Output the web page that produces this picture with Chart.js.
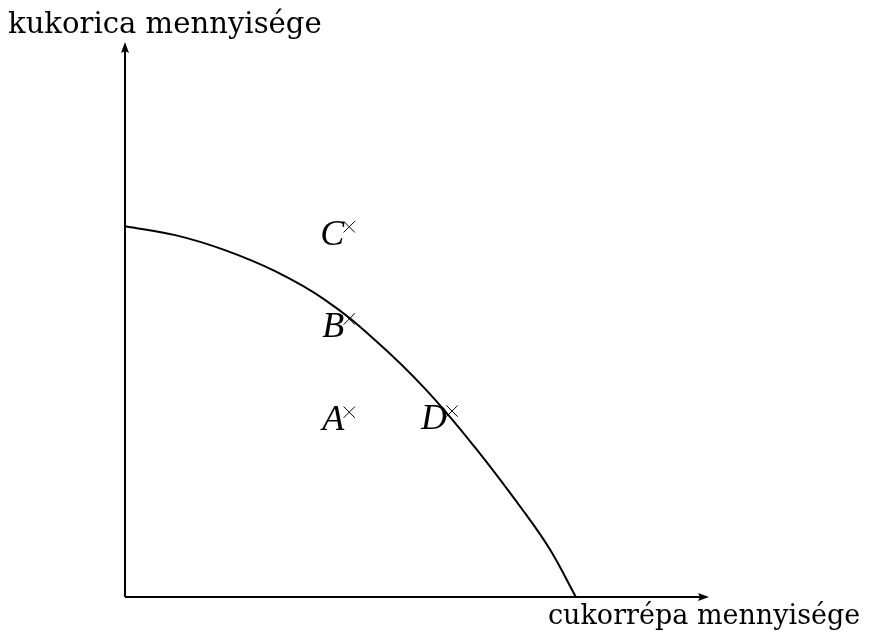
<!DOCTYPE html>
<html>
<head>
<meta charset="utf-8">
<script src="https://cdn.jsdelivr.net/npm/chart.js@4.4.1/dist/chart.umd.min.js"></script>
<style>
  html, body { margin: 0; padding: 0; background: #ffffff; }
  #wrap { width: 877px; height: 635px; }
</style>
</head>
<body>
<div id="wrap"><canvas id="ppf"></canvas></div>
<script>
// production possibility curve (axis units 0..10)
const curveX = [0, 0.86, 1.71, 2.57, 3.43, 4.28, 5.14, 5.99, 6.85, 7.28, 7.72];
const curveY = [6.68, 6.52, 6.25, 5.87, 5.35, 4.63, 3.75, 2.70, 1.51, 0.85, 0];
// marked points
const pointNames = ["C", "B", "A", "D"];
const pointX = [3.84, 3.84, 3.84, 5.60];
const pointY = [6.67, 5.01, 3.33, 3.35];
const xTitle = "cukorrépa mennyisége";
const yTitle = "kukorica mennyisége";

const curveData = curveX.map((x, i) => ({ x: x, y: curveY[i] }));
const markData = pointX.map((x, i) => ({ x: x, y: pointY[i] }));

// fit a serif label to a given width
function fitFont(ctx, text, width, family) {
  ctx.font = "30px " + family;
  const w = ctx.measureText(text).width;
  return Math.round(30 * width / w * 10) / 10;
}

const axesAndLabels = {
  id: "axesAndLabels",
  afterDatasetsDraw(chart) {
    const ctx = chart.ctx;
    const xs = chart.scales.x, ys = chart.scales.y;
    const x0 = xs.getPixelForValue(0), y0 = ys.getPixelForValue(0);
    const xEnd = xs.getPixelForValue(10), yEnd = ys.getPixelForValue(10);
    ctx.save();
    ctx.strokeStyle = "#000";
    ctx.fillStyle = "#000";
    ctx.lineWidth = 2;
    ctx.beginPath();
    ctx.moveTo(x0, y0);
    ctx.lineTo(xEnd - 6, y0);
    ctx.moveTo(x0, y0);
    ctx.lineTo(x0, yEnd + 6);
    ctx.stroke();
    // arrow heads
    ctx.beginPath();
    ctx.moveTo(xEnd, y0);
    ctx.lineTo(xEnd - 11, y0 - 4);
    ctx.lineTo(xEnd - 9, y0);
    ctx.lineTo(xEnd - 11, y0 + 4);
    ctx.closePath();
    ctx.fill();
    ctx.beginPath();
    ctx.moveTo(x0, yEnd);
    ctx.lineTo(x0 - 4, yEnd + 11);
    ctx.lineTo(x0, yEnd + 9);
    ctx.lineTo(x0 + 4, yEnd + 11);
    ctx.closePath();
    ctx.fill();

    // axis titles
    const fam = "'DejaVu Serif', serif";
    ctx.textBaseline = "alphabetic";
    ctx.textAlign = "left";
    ctx.font = fitFont(ctx, yTitle, 314, fam) + "px " + fam;
    ctx.fillText(yTitle, 8, 33);
    ctx.font = fitFont(ctx, xTitle, 312, fam) + "px " + fam;
    ctx.fillText(xTitle, 548, 624);

    // point letters
    ctx.font = "italic 36px 'Liberation Serif', serif";
    ctx.textAlign = "right";
    pointNames.forEach((name, i) => {
      const px = xs.getPixelForValue(pointX[i]);
      const py = ys.getPixelForValue(pointY[i]);
      ctx.fillText(name, px - 5, py + 18);
    });
    ctx.restore();
  }
};

new Chart(document.getElementById("ppf"), {
  type: "scatter",
  data: {
    datasets: [
      {
        data: curveData,
        showLine: true,
        borderColor: "#000",
        borderWidth: 2,
        pointRadius: 0,
        tension: 0.4,
        fill: false
      },
      {
        data: markData,
        showLine: false,
        pointStyle: "crossRot",
        pointRadius: 8,
        pointBorderWidth: 1,
        pointBorderColor: "#000",
        pointBackgroundColor: "#000"
      }
    ]
  },
  options: {
    responsive: true,
    maintainAspectRatio: false,
    animation: false,
    layout: { padding: { left: 125, top: 42, right: 168, bottom: 38 } },
    plugins: {
      legend: { display: false },
      tooltip: { enabled: false }
    },
    scales: {
      x: { type: "linear", min: 0, max: 10, display: false },
      y: { type: "linear", min: 0, max: 10, display: false }
    }
  },
  plugins: [axesAndLabels]
});
</script>
</body>
</html>
